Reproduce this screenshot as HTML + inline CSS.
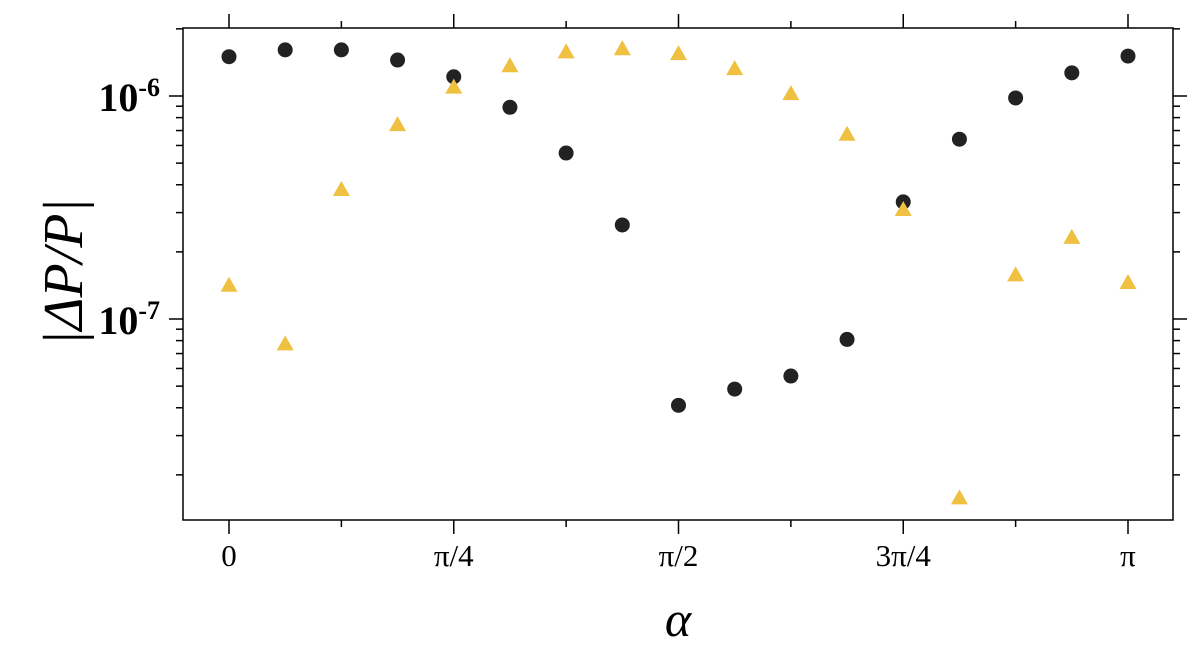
<!DOCTYPE html>
<html><head><meta charset="utf-8"><style>
html,body{margin:0;padding:0;background:#fff;}
svg text{font-family:"Liberation Serif","DejaVu Serif",serif;}
</style></head><body>
<svg id="chart" width="1200" height="662" viewBox="0 0 1200 662" xmlns="http://www.w3.org/2000/svg">
<g id="axes"></g>
<g id="marks"></g>
<text x="678" y="636" font-size="50" font-style="italic" text-anchor="middle">α</text>
<text transform="translate(82,272) rotate(-90)" font-size="56" font-style="italic" text-anchor="middle">|ΔP/P|</text>
</svg>
<script>
const xTickLabels = ["0","π/4","π/2","3π/4","π"];
const yTickExps = [-6,-7];
const alphaIdx = [0,1,2,3,4,5,6,7,8,9,10,11,12,13,14,15,16];
const circleVals = [1.5e-6,1.61e-6,1.61e-6,1.45e-6,1.22e-6,0.89e-6,5.55e-7,2.64e-7,4.1e-8,4.85e-8,5.55e-8,8.1e-8,3.35e-7,6.4e-7,9.8e-7,1.27e-6,1.51e-6];
const triangleVals = [1.41e-7,7.7e-8,3.79e-7,7.4e-7,1.09e-6,1.36e-6,1.57e-6,1.62e-6,1.54e-6,1.32e-6,1.02e-6,6.7e-7,3.08e-7,1.57e-8,1.57e-7,2.31e-7,1.45e-7];

const NS="http://www.w3.org/2000/svg";
const L=183,R=1173,T=28,B=520;
const x0=229,x1=1128;
function xs(a){return x0+(x1-x0)*a/Math.PI;}
function ys(v){return 96-223*(Math.log10(v)+6);}
function mk(tag,attrs,parent){const e=document.createElementNS(NS,tag);for(const k in attrs)e.setAttribute(k,attrs[k]);parent.appendChild(e);return e;}
const axes=document.getElementById('axes'), marks=document.getElementById('marks');
const frame=mk('rect',{x:L,y:T,width:R-L,height:B-T,fill:'none',stroke:'#000','stroke-width':1.5},axes);


for(let i=0;i<=8;i++){
  const a=i*Math.PI/8, x=xs(a), len=i%2===0?14:7;
  const t1=mk('line',{x1:x,x2:x,y1:B,y2:B+len,stroke:'#000','stroke-width':1.5},axes);
  
  
  const t2=mk('line',{x1:x,x2:x,y1:T,y2:T-len,stroke:'#000','stroke-width':1.5},axes);
  
  
}
xTickLabels.forEach((s,i)=>{
  const t=mk('text',{x:xs(i*Math.PI/4),y:566,'font-size':31,'text-anchor':'middle'},axes);
  t.textContent=s;
  
  
});
const vmin=Math.pow(10,-7.9), vmax=Math.pow(10,-5.695);
for(let e=-9;e<=-5;e++){
  for(let m=1;m<10;m++){
    const v=m*Math.pow(10,e);
    if(v<vmin||v>vmax)continue;
    const y=ys(v), len=m===1?14:7;
    const a=mk('line',{x1:L,x2:L-len,y1:y,y2:y,stroke:'#000','stroke-width':1.5},axes);
    
    
    const b=mk('line',{x1:R,x2:R+len,y1:y,y2:y,stroke:'#000','stroke-width':1.5},axes);
    
    
  }
}
yTickExps.forEach(e=>{
  const y=ys(Math.pow(10,e));
  const t=mk('text',{x:160,y:y+15,'font-size':40,'font-weight':'bold','text-anchor':'end'},axes);
  
  
  const a=document.createElementNS(NS,'tspan');a.textContent='10';t.appendChild(a);
  const b=document.createElementNS(NS,'tspan');b.setAttribute('dy','-15');b.setAttribute('font-size','26');b.textContent=String(e);t.appendChild(b);
});
alphaIdx.forEach((k,i)=>{
  const x=xs(k*Math.PI/16);
  const c=mk('circle',{cx:x,cy:ys(circleVals[i]),r:7.5,fill:'#222'},marks);
  
  
  const y=ys(triangleVals[i]);
  const p=mk('polygon',{points:`${x},${y-9} ${x-8.5},${y+6} ${x+8.5},${y+6}`,fill:'#f0c040'},marks);
  
  
});
</script>
</body></html>
